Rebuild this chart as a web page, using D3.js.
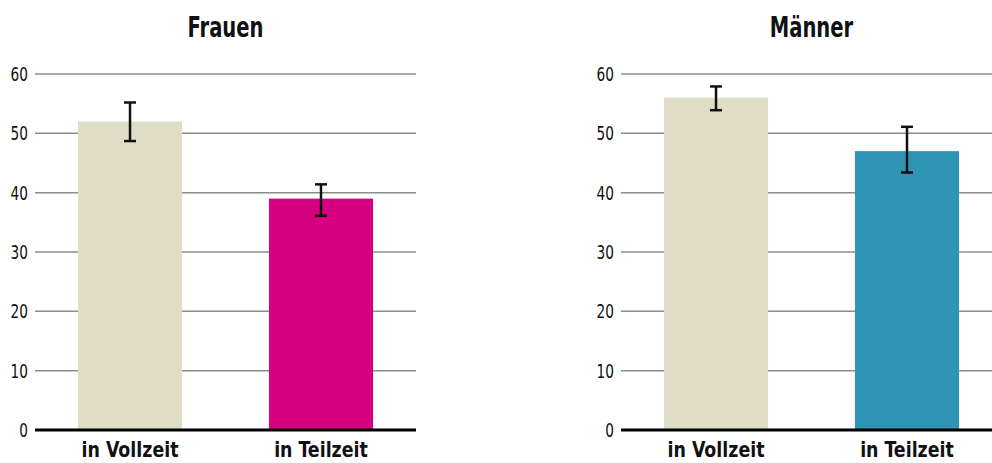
<!DOCTYPE html>
<meta charset="utf-8">
<style>

body {
  margin: 0;
  background-color: white;
  overflow: hidden;
}

text {
  font-family: "Liberation Sans Narrow", "DejaVu Sans Condensed", "Roboto", sans-serif;
  fill: #111;
}

.grid line {
  stroke: #8c8c8c;
  stroke-width: 1.5;
}

</style>
<body>

<script src="https://cdn.jsdelivr.net/npm/d3@7"></script>
<script>
var categories = ["in Vollzeit", "in Teilzeit"];
var yTicks = [0, 10, 20, 30, 40, 50, 60];

var frauenValues = [52, 39];
var frauenLow = [48.7, 36.1];
var frauenHigh = [55.2, 41.4];

var maennerValues = [56, 47];
var maennerLow = [53.9, 43.4];
var maennerHigh = [57.9, 51.1];

var panels = [
  {title: "Frauen", values: frauenValues, low: frauenLow, high: frauenHigh,
   colors: ["#dfddc6", "#d5007f"], x0: 35, x1: 416},
  {title: "Männer", values: maennerValues, low: maennerLow, high: maennerHigh,
   colors: ["#dfddc6", "#2e95b6"], x0: 621, x1: 1002}
];

var width = 992,
    height = 463;

// squeeze text horizontally to get the condensed look
function place(x, y, sx) {
  return "translate(" + x + "," + y + ") scale(" + sx + ",1)";
}

var svg = d3.select("body").append("svg")
    .attr("width", width)
    .attr("height", height);

var y = d3.scaleLinear()
    .domain([0, 60])
    .range([430, 74]);

panels.forEach(function(p) {
  var x = d3.scaleBand()
      .domain(categories)
      .range([p.x0, p.x1])
      .paddingInner(0.455)
      .paddingOuter(0.225);

  var g = svg.append("g");

  // gridlines
  g.append("g")
      .attr("class", "grid")
    .selectAll("line")
      .data(yTicks.filter(function(d) { return d > 0; }))
    .enter().append("line")
      .attr("x1", p.x0)
      .attr("x2", p.x1)
      .attr("y1", function(d) { return y(d); })
      .attr("y2", function(d) { return y(d); });

  // tick labels
  g.selectAll("text.tick")
      .data(yTicks)
    .enter().append("text")
      .attr("class", "tick")
      .attr("transform", function(d) { return place(p.x0 - 7, y(d), 0.8); })
      .attr("dy", "0.36em")
      .attr("text-anchor", "end")
      .style("font-size", "19px")
      .text(function(d) { return d; });

  // bars
  g.selectAll("rect")
      .data(p.values)
    .enter().append("rect")
      .attr("x", function(d, i) { return x(categories[i]); })
      .attr("width", x.bandwidth())
      .attr("y", function(d) { return y(d); })
      .attr("height", function(d) { return y(0) - y(d); })
      .attr("fill", function(d, i) { return p.colors[i]; });

  // baseline
  g.append("line")
      .attr("x1", p.x0)
      .attr("x2", p.x1)
      .attr("y1", y(0))
      .attr("y2", y(0))
      .attr("stroke", "#000")
      .attr("stroke-width", 3);

  // error bars
  var err = g.selectAll("g.err")
      .data(categories)
    .enter().append("g")
      .attr("class", "err")
      .attr("transform", function(d) { return "translate(" + (x(d) + x.bandwidth() / 2) + ",0)"; })
      .attr("stroke", "#111")
      .attr("stroke-width", 2.5);

  err.append("line")
      .attr("y1", function(d, i) { return y(p.low[i]); })
      .attr("y2", function(d, i) { return y(p.high[i]); });
  err.append("line")
      .attr("x1", -6).attr("x2", 6)
      .attr("y1", function(d, i) { return y(p.low[i]); })
      .attr("y2", function(d, i) { return y(p.low[i]); });
  err.append("line")
      .attr("x1", -6).attr("x2", 6)
      .attr("y1", function(d, i) { return y(p.high[i]); })
      .attr("y2", function(d, i) { return y(p.high[i]); });

  // category labels
  g.selectAll("text.cat")
      .data(categories)
    .enter().append("text")
      .attr("class", "cat")
      .attr("transform", function(d) { return place(x(d) + x.bandwidth() / 2, 457, 0.88); })
      .attr("text-anchor", "middle")
      .style("font-size", "22px")
      .style("font-weight", "bold")
      .text(function(d) { return d; });

  // title
  g.append("text")
      .attr("transform", place((p.x0 + p.x1) / 2, 37, 0.75))
      .attr("text-anchor", "middle")
      .style("font-size", "29px")
      .style("font-weight", "bold")
      .text(p.title);
});

</script>
